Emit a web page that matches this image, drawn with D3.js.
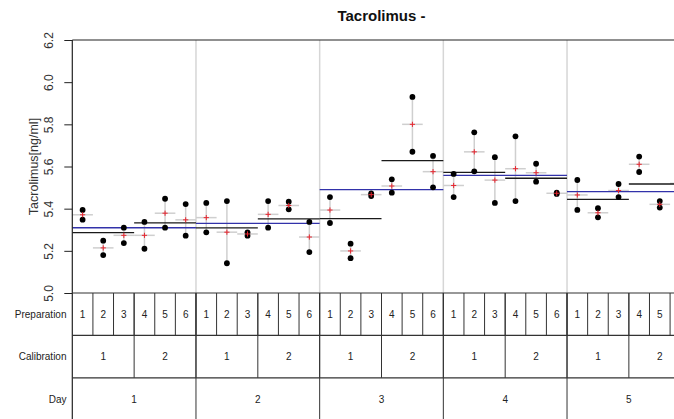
<!DOCTYPE html>
<html>
<head>
<meta charset="utf-8">
<script src="https://cdn.jsdelivr.net/npm/d3@7/dist/d3.min.js"></script>
<style>
  html, body { margin: 0; padding: 0; background: #fff; overflow: hidden; }
  svg { display: block; font-family: "Liberation Sans", Arial, sans-serif; }
</style>
</head>
<body>
<script>
// Factor levels of the nested design: Day > Calibration > Preparation
const days = [1, 2, 3, 4, 5];
const calibrations = [1, 2];
const preparations = [1, 2, 3, 4, 5, 6];
const prepCalibration = [1, 1, 1, 2, 2, 2];

// Replicate measurements (ng/ml), ordered day by day, preparation 1..6
const replicateA = [
  5.394, 5.248, 5.310, 5.337, 5.447, 5.422,
  5.427, 5.436, 5.288, 5.436, 5.433, 5.337,
  5.455, 5.234, 5.473, 5.539, 5.930, 5.650,
  5.565, 5.762, 5.644, 5.743, 5.613, 5.476,
  5.536, 5.402, 5.517, 5.647, 5.436, 5.560
];
const replicateB = [
  5.348, 5.180, 5.237, 5.210, 5.310, 5.272,
  5.288, 5.141, 5.272, 5.310, 5.397, 5.194,
  5.332, 5.165, 5.460, 5.476, 5.670, 5.501,
  5.455, 5.577, 5.427, 5.436, 5.528, 5.470,
  5.394, 5.359, 5.455, 5.574, 5.405, 5.480
];

const yTicks = [5.0, 5.2, 5.4, 5.6, 5.8, 6.0, 6.2];
const rowLabels = ["Preparation", "Calibration", "Day"];

(function () {
const W = 674, H = 419;
const xLeft = 72.3, xRight = 690.7, yTop = 40, plotBottom = 293;
const rowH = 42.4;

const svg = d3.select("body").append("svg").attr("width", W).attr("height", H);

// One record per preparation
const cells = [];
days.forEach((d, di) => {
  preparations.forEach((p, pi) => {
    const i = di * preparations.length + pi;
    cells.push({ day: d, cal: prepCalibration[pi], prep: p, key: d + "-" + p,
                 vals: [replicateA[i], replicateB[i]] });
  });
});
cells.forEach(c => c.mean = d3.mean(c.vals));

const x = d3.scaleBand().domain(cells.map(c => c.key)).range([xLeft, xRight]).padding(0);
const y = d3.scaleLinear().domain([5.0, 6.2]).range([plotBottom, yTop]);
const bw = x.bandwidth();

// Group spans for calibrations and days
const calGroups = [];
days.forEach(d => calibrations.forEach(k => {
  const cs = cells.filter(c => c.day === d && c.cal === k);
  calGroups.push({ day: d, cal: k, x0: x(cs[0].key), x1: x(cs[cs.length - 1].key) + bw,
                   mean: d3.mean(cs, c => c.mean) });
}));
const dayGroups = days.map(d => {
  const cs = cells.filter(c => c.day === d);
  return { day: d, x0: x(cs[0].key), x1: x(cs[cs.length - 1].key) + bw,
           mean: d3.mean(cs, c => c.mean) };
});

// Title
svg.append("text").attr("x", (xLeft + xRight) / 2).attr("y", 20.5)
  .attr("text-anchor", "middle").attr("font-size", 15).attr("font-weight", "bold")
  .attr("fill", "#111").text("Tacrolimus -");

// Light day separators inside the plot
svg.append("g").selectAll("line").data(dayGroups.slice(1)).join("line")
  .attr("x1", d => d.x0).attr("x2", d => d.x0)
  .attr("y1", yTop).attr("y2", plotBottom)
  .attr("stroke", "#d6d6d6").attr("stroke-width", 1.5);

// Replicate ranges and preparation means
const cg = svg.append("g");
cg.selectAll("line.range").data(cells).join("line").attr("class", "range")
  .attr("x1", c => x(c.key) + bw / 2).attr("x2", c => x(c.key) + bw / 2)
  .attr("y1", c => y(d3.max(c.vals))).attr("y2", c => y(d3.min(c.vals)))
  .attr("stroke", "#cfcfcf").attr("stroke-width", 1.5);
cg.selectAll("line.pmean").data(cells).join("line").attr("class", "pmean")
  .attr("x1", c => x(c.key)).attr("x2", c => x(c.key) + bw)
  .attr("y1", c => y(c.mean)).attr("y2", c => y(c.mean))
  .attr("stroke", "#cfcfcf").attr("stroke-width", 1.5);

// Calibration means
svg.append("g").selectAll("line").data(calGroups).join("line")
  .attr("x1", d => d.x0).attr("x2", d => d.x1)
  .attr("y1", d => y(d.mean)).attr("y2", d => y(d.mean))
  .attr("stroke", "#1a1a1a").attr("stroke-width", 1.3);

// Day means
svg.append("g").selectAll("line").data(dayGroups).join("line")
  .attr("x1", d => d.x0).attr("x2", d => d.x1)
  .attr("y1", d => y(d.mean)).attr("y2", d => y(d.mean))
  .attr("stroke", "#3232aa").attr("stroke-width", 1.3);

// Individual measurements
const pts = cells.flatMap(c => c.vals.map(v => ({ key: c.key, v })));
svg.append("g").selectAll("circle").data(pts).join("circle")
  .attr("cx", p => x(p.key) + bw / 2).attr("cy", p => y(p.v))
  .attr("r", 2.9).attr("fill", "#000");

// Preparation mean markers
svg.append("g").selectAll("path").data(cells).join("path")
  .attr("d", c => {
    const cx = x(c.key) + bw / 2, cy = y(c.mean), s = 2.6;
    return `M${cx - s},${cy}H${cx + s}M${cx},${cy - s}V${cy + s}`;
  })
  .attr("stroke", "#e8252f").attr("stroke-width", 1).attr("fill", "none");

// Y axis with labels parallel to the axis
const yAxis = svg.append("g").attr("transform", `translate(${xLeft},0)`)
  .call(d3.axisLeft(y).tickValues(yTicks).tickFormat(d3.format(".1f"))
    .tickSize(8).tickSizeOuter(0));
yAxis.select(".domain").remove();
yAxis.selectAll(".tick line").attr("stroke", "#222");
yAxis.selectAll(".tick text")
  .attr("transform", "rotate(-90)").attr("x", 0).attr("y", -19).attr("dy", 0)
  .attr("text-anchor", "middle").attr("font-size", 12).attr("fill", "#333")
  .attr("font-family", "Liberation Sans, Arial, sans-serif");

svg.append("text").attr("transform", `translate(37.5,${(yTop + plotBottom) / 2}) rotate(-90)`)
  .attr("text-anchor", "middle").attr("font-size", 12.5).attr("fill", "#333")
  .text("Tacrolimus[ng/ml]");

// Plot frame
svg.append("line").attr("x1", xLeft).attr("x2", xRight).attr("y1", yTop).attr("y2", yTop)
  .attr("stroke", "#222").attr("stroke-width", 1.2);
svg.append("line").attr("x1", xLeft).attr("x2", xLeft).attr("y1", yTop).attr("y2", H + 5)
  .attr("stroke", "#222").attr("stroke-width", 1.2);

// Design table below the plot
const tb = svg.append("g");
const rowY = [plotBottom, plotBottom + rowH, plotBottom + 2 * rowH, plotBottom + 3 * rowH];
rowY.forEach(yy => tb.append("line").attr("x1", xLeft).attr("x2", xRight)
  .attr("y1", yy).attr("y2", yy).attr("stroke", "#333").attr("stroke-width", 1.2));

// Preparation separators
tb.selectAll("line.ps").data(cells.slice(1)).join("line").attr("class", "ps")
  .attr("x1", c => x(c.key)).attr("x2", c => x(c.key))
  .attr("y1", rowY[0]).attr("y2", rowY[1]).attr("stroke", "#333");
// Calibration separators
tb.selectAll("line.cs").data(calGroups.slice(1)).join("line").attr("class", "cs")
  .attr("x1", d => d.x0).attr("x2", d => d.x0)
  .attr("y1", rowY[0]).attr("y2", rowY[2]).attr("stroke", "#333");
// Day separators
tb.selectAll("line.ds").data(dayGroups.slice(1)).join("line").attr("class", "ds")
  .attr("x1", d => d.x0).attr("x2", d => d.x0)
  .attr("y1", rowY[0]).attr("y2", rowY[3]).attr("stroke", "#333");

// Cell labels; the table runs past the right edge, so labels whose
// cell centre falls outside the drawing are left out
const inView = cx => cx < W - 4;
const cellText = (sel, fn, yy) => sel.attr("x", fn).attr("y", yy).attr("dy", "0.35em")
  .attr("text-anchor", "middle").attr("font-size", 10).attr("fill", "#222");
tb.selectAll("text.pt").data(cells.filter(c => inView(x(c.key) + bw / 2))).join("text")
  .attr("class", "pt")
  .call(cellText, c => x(c.key) + bw / 2, (rowY[0] + rowY[1]) / 2).text(c => c.prep);
tb.selectAll("text.ct").data(calGroups).join("text").attr("class", "ct")
  .call(cellText, d => (d.x0 + d.x1) / 2, (rowY[1] + rowY[2]) / 2).text(d => d.cal);
tb.selectAll("text.dt").data(dayGroups).join("text").attr("class", "dt")
  .call(cellText, d => (d.x0 + d.x1) / 2, (rowY[2] + rowY[3]) / 2).text(d => d.day);

tb.selectAll("text.rl").data(rowLabels).join("text").attr("class", "rl")
  .attr("x", 66.5).attr("y", (d, i) => (rowY[i] + rowY[i + 1]) / 2).attr("dy", "0.35em")
  .attr("text-anchor", "end").attr("font-size", 10).attr("fill", "#222").text(d => d);
})();
</script>
</body>
</html>
